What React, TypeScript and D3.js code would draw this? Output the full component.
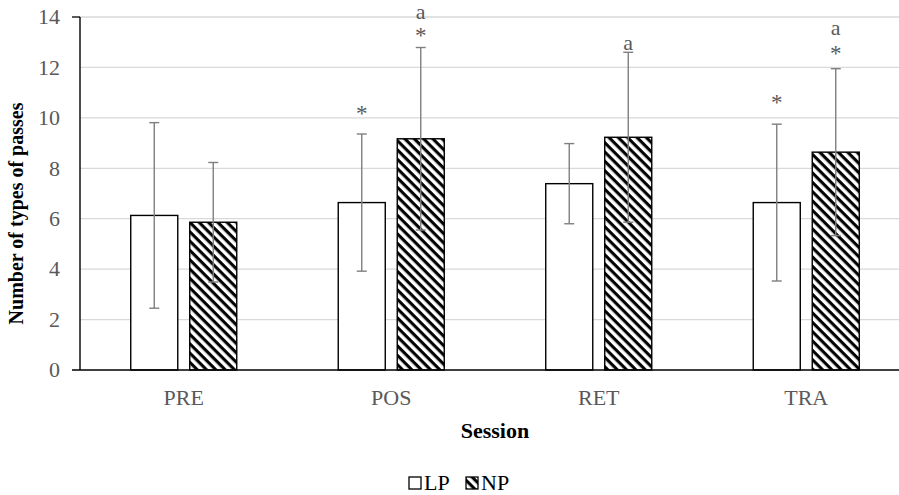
import { useMemo } from 'react';
import * as d3 from 'd3';

const WIDTH = 899;
const HEIGHT = 495;
const MARGIN = { top: 17, right: -11, bottom: 125, left: 80 };

const sessions = ['PRE', 'POS', 'RET', 'TRA'];
const groups = ['LP', 'NP'];

// means and SD
const lpMeans = [6.13, 6.64, 7.39, 6.64];
const lpSD = [3.68, 2.72, 1.59, 3.11];
const npMeans = [5.86, 9.17, 9.23, 8.64];
const npSD = [2.37, 3.62, 3.37, 3.31];

// annotations: text and the value at which its baseline sits
const annoSession = ['POS', 'POS', 'POS', 'RET', 'TRA', 'TRA', 'TRA'];
const annoGroup = ['LP', 'NP', 'NP', 'NP', 'LP', 'NP', 'NP'];
const annoText = ['*', '*', 'a', 'a', '*', '*', 'a'];
const annoLevel = [9.86, 12.95, 13.92, 12.69, 10.3, 12.25, 13.3];

const yTicks = [0, 2, 4, 6, 8, 10, 12, 14];

const SERIF = '"Liberation Serif", "Times New Roman", serif';
const TICK_GRAY = '#595959';
const ERR_GRAY = '#7f7f7f';

export default function App() {
  const innerW = WIDTH - MARGIN.left - MARGIN.right;
  const innerH = HEIGHT - MARGIN.top - MARGIN.bottom;

  const x = useMemo(() => d3.scaleBand<string>().domain(sessions).range([0, innerW]).padding(0), [innerW]);
  const xSub = useMemo(
    () =>
      d3
        .scaleBand<string>()
        .domain(groups)
        .range([0, x.bandwidth()])
        .paddingInner(0.203)
        .paddingOuter(0.86),
    [x],
  );
  const y = useMemo(() => d3.scaleLinear().domain([0, 14]).range([innerH, 0]), [innerH]);

  const bars = sessions.flatMap((s, i) => [
    { session: s, group: 'LP', mean: lpMeans[i], sd: lpSD[i] },
    { session: s, group: 'NP', mean: npMeans[i], sd: npSD[i] },
  ]);

  const annos = annoText.map((t, i) => ({
    session: annoSession[i],
    group: annoGroup[i],
    text: t,
    level: annoLevel[i],
  }));

  const cx = (s: string, g: string) => x(s)! + xSub(g)! + xSub.bandwidth() / 2;

  return (
    <div style={{ position: 'absolute', left: 0, top: 0 }}>
      <svg width={WIDTH} height={HEIGHT} style={{ display: 'block', background: '#fff' }}>
        <defs>
          <pattern
            id="hatch"
            patternUnits="userSpaceOnUse"
            width={8}
            height={6.6}
            patternTransform="rotate(45)"
          >
            <rect width={8} height={6.6} fill="#fff" />
            <line x1={0} x2={8} y1={1.6} y2={1.6} stroke="#000" strokeWidth={3.1} />
          </pattern>
        </defs>

        <g transform={`translate(${MARGIN.left},${MARGIN.top})`}>
          {/* gridlines */}
          {yTicks.slice(1).map((t) => (
            <line key={t} x1={0} x2={innerW} y1={y(t)} y2={y(t)} stroke="#d9d9d9" strokeWidth={1.3} />
          ))}

          {/* y tick labels */}
          {yTicks.map((t) => (
            <text
              key={t}
              x={-20}
              y={y(t)}
              dy="0.33em"
              textAnchor="end"
              fontFamily={SERIF}
              fontSize={22}
              fill={TICK_GRAY}
            >
              {t}
            </text>
          ))}
          <line x1={-8} x2={0} y1={y(14)} y2={y(14)} stroke="#000" strokeWidth={1.3} />

          {/* bars */}
          {bars.map((d) => (
            <rect
              key={d.session + d.group}
              x={x(d.session)! + xSub(d.group)!}
              y={y(d.mean)}
              width={xSub.bandwidth()}
              height={y(0) - y(d.mean)}
              fill={d.group === 'LP' ? '#fff' : 'url(#hatch)'}
              stroke="#000"
              strokeWidth={1.4}
            />
          ))}

          {/* error bars */}
          {bars.map((d) => {
            const c = cx(d.session, d.group);
            const hi = y(d.mean + d.sd);
            const lo = y(d.mean - d.sd);
            return (
              <g key={'e' + d.session + d.group} stroke={ERR_GRAY} strokeWidth={1.4}>
                <line x1={c} x2={c} y1={hi} y2={lo} />
                <line x1={c - 5} x2={c + 5} y1={hi} y2={hi} />
                <line x1={c - 5} x2={c + 5} y1={lo} y2={lo} />
              </g>
            );
          })}

          {/* annotations */}
          {annos.map((a, i) => (
            <text
              key={'a' + i}
              x={cx(a.session, a.group)}
              y={y(a.level)}
              textAnchor="middle"
              fontFamily={SERIF}
              fontSize={a.text === '*' ? 23 : 22}
              fill={TICK_GRAY}
            >
              {a.text}
            </text>
          ))}

          {/* axes */}
          <line x1={-8} x2={innerW} y1={y(0)} y2={y(0)} stroke="#000" strokeWidth={1.6} />
          <line x1={0} x2={0} y1={y(14)} y2={y(0)} stroke="#000" strokeWidth={1.4} />

          {/* x labels */}
          {sessions.map((s) => (
            <text
              key={s}
              x={x(s)! + x.bandwidth() / 2}
              y={innerH + 35}
              textAnchor="middle"
              fontFamily={SERIF}
              fontSize={22}
              fill={TICK_GRAY}
            >
              {s}
            </text>
          ))}

          {/* axis titles */}
          <text
            x={innerW / 2}
            y={innerH + 68}
            textAnchor="middle"
            fontFamily={SERIF}
            fontSize={22}
            fontWeight="bold"
            fill="#000"
          >
            Session
          </text>
          <text
            transform={`translate(${-57},${(y(14) + y(0)) / 2 + 20}) rotate(-90)`}
            textAnchor="middle"
            fontFamily={SERIF}
            fontSize={20}
            fontWeight="bold"
            fill="#000"
          >
            Number of types of passes
          </text>
        </g>

        {/* legend */}
        <g transform="translate(409,477)" fontFamily={SERIF} fontSize={22} fill="#000">
          <rect x={0} y={0} width={12} height={12} fill="#fff" stroke="#000" strokeWidth={1.3} />
          <text x={15} y={13}>
            {groups[0]}
          </text>
          <rect x={57} y={0} width={12} height={12} fill="url(#hatch)" stroke="#000" strokeWidth={1.3} />
          <text x={72} y={13}>
            {groups[1]}
          </text>
        </g>
      </svg>
    </div>
  );
}
